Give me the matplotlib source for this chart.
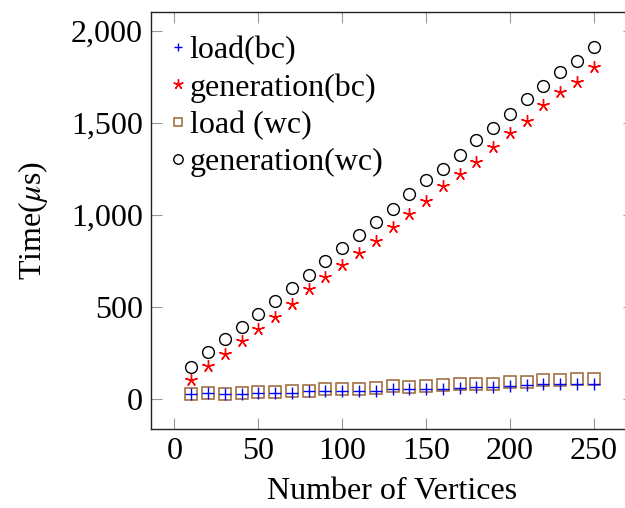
import matplotlib
matplotlib.use("Agg")
import matplotlib.pyplot as plt
from matplotlib.ticker import FuncFormatter, MultipleLocator

plt.rcParams["font.family"] = ["Liberation Serif", "DejaVu Serif"]
plt.rcParams["mathtext.fontset"] = "stix"

vertices = [10, 20, 30, 40, 50, 60, 70, 80, 90, 100, 110, 120, 130,
            140, 150, 160, 170, 180, 190, 200, 210, 220, 230, 240, 250]

load_bc = [25, 31, 27, 28, 31, 33, 34, 40, 40, 43, 45, 45, 53,
           55, 53, 55, 58, 64, 67, 72, 76, 82, 82, 82, 83]
generation_bc = [103, 181, 245, 312, 379, 444, 516, 600, 661, 727, 792, 859, 933,
                 1005, 1076, 1159, 1223, 1290, 1368, 1447, 1513, 1598, 1670, 1725, 1803]
load_wc = [27, 31, 27, 31, 36, 38, 42, 45, 51, 54, 56, 60, 71,
           67, 70, 76, 80, 83, 83, 91, 94, 101, 102, 107, 109]
generation_wc = [172, 257, 326, 393, 464, 534, 605, 674, 750, 822, 891, 960, 1035,
                 1112, 1190, 1252, 1324, 1406, 1471, 1547, 1629, 1701, 1779, 1840, 1915]

labels = ["load(bc)", "generation(bc)", "load (wc)", "generation(wc)"]

fig = plt.figure(figsize=(6.25, 5.08), dpi=100)
ax = fig.add_axes([0.2416, 0.1555, 0.7728, 0.8209])

ax.plot(vertices, load_bc, linestyle="none", marker="+", ms=8, mew=1.0,
        color="#0000ff", label=labels[0], zorder=4)
ax.plot(vertices, generation_bc, linestyle="none", marker=(5, 2, 0), ms=9, mew=1.0,
        color="#ff0000", label=labels[1], zorder=3)
ax.plot(vertices, load_wc, linestyle="none", marker="s", ms=8, mew=1.1,
        mfc="none", mec="#9a6535", label=labels[2], zorder=3)
ax.plot(vertices, generation_wc, linestyle="none", marker="o", ms=8.5, mew=1.0,
        mfc="none", mec="black", label=labels[3], zorder=3)

ax.set_xlim(-14, 274)
ax.set_ylim(-164, 2104)
ax.xaxis.set_major_locator(MultipleLocator(50))
ax.yaxis.set_major_locator(MultipleLocator(500))
ax.yaxis.set_major_formatter(FuncFormatter(lambda v, p: f"{int(v):,}"))

ax.tick_params(direction="in", length=8, width=0.8, color="#999999",
               top=True, right=True, labelsize=23, pad=6)
for s in ax.spines.values():
    s.set_color("#222222")
    s.set_linewidth(1.0)

ax.set_xlabel("Number of Vertices", fontsize=23, labelpad=8)
ax.set_ylabel(r"Time($\mu$s)", fontsize=23, labelpad=15)

ax.legend(loc="upper left", bbox_to_anchor=(0.039, 0.943), frameon=False,
          fontsize=23, handlelength=0.5, handletextpad=0.12, labelspacing=0.25,
          borderaxespad=0.0, borderpad=0.0, markerscale=0.8)

fig.savefig("out.png", dpi=100)
